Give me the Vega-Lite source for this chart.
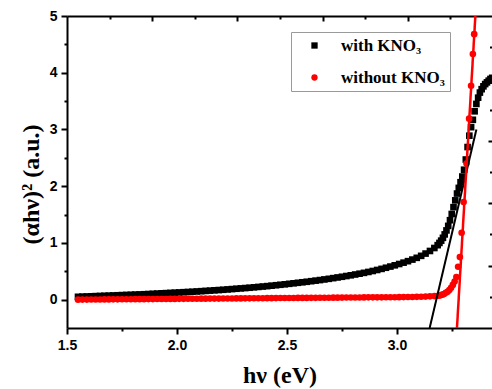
{
"$schema":"https://vega.github.io/schema/vega-lite/v6.json",
"autosize":{"type":"none"},
"padding":{"left":67,"top":16,"right":0,"bottom":61},
"width":425,"height":312,
"background":"white",
"config":{"view":{"stroke":null},"axis":{"grid":false,"domainColor":"black","tickColor":"black","domainWidth":2,"tickWidth":2,"labelFont":"Liberation Sans","labelFontWeight":"bold","labelFontSize":14,"labelColor":"black","titleColor":"black","labelFlush":false,"labelOverlap":false}},
"resolve":{"scale":{"x":"independent","y":"independent"},"axis":{"x":"independent","y":"independent"}},
"layer":[
{"data":{"values":[
{"s":"k","x":1.55,"y":0.050},{"s":"k","x":1.57,"y":0.053},{"s":"k","x":1.59,"y":0.056},{"s":"k","x":1.61,"y":0.059},{"s":"k","x":1.63,"y":0.062},{"s":"k","x":1.65,"y":0.065},{"s":"k","x":1.67,"y":0.068},{"s":"k","x":1.69,"y":0.071},{"s":"k","x":1.71,"y":0.074},{"s":"k","x":1.73,"y":0.077},{"s":"k","x":1.75,"y":0.080},{"s":"k","x":1.77,"y":0.083},{"s":"k","x":1.79,"y":0.086},{"s":"k","x":1.81,"y":0.089},{"s":"k","x":1.83,"y":0.092},{"s":"k","x":1.85,"y":0.095},{"s":"k","x":1.87,"y":0.099},{"s":"k","x":1.89,"y":0.103},{"s":"k","x":1.91,"y":0.107},{"s":"k","x":1.93,"y":0.111},{"s":"k","x":1.95,"y":0.115},{"s":"k","x":1.97,"y":0.119},{"s":"k","x":1.99,"y":0.123},{"s":"k","x":2.01,"y":0.127},{"s":"k","x":2.03,"y":0.131},{"s":"k","x":2.05,"y":0.135},{"s":"k","x":2.07,"y":0.139},{"s":"k","x":2.09,"y":0.144},{"s":"k","x":2.11,"y":0.149},{"s":"k","x":2.13,"y":0.154},{"s":"k","x":2.15,"y":0.159},{"s":"k","x":2.17,"y":0.164},{"s":"k","x":2.19,"y":0.169},{"s":"k","x":2.21,"y":0.174},{"s":"k","x":2.23,"y":0.180},{"s":"k","x":2.25,"y":0.186},{"s":"k","x":2.27,"y":0.192},{"s":"k","x":2.29,"y":0.198},{"s":"k","x":2.31,"y":0.204},{"s":"k","x":2.33,"y":0.210},{"s":"k","x":2.35,"y":0.217},{"s":"k","x":2.37,"y":0.224},{"s":"k","x":2.39,"y":0.231},{"s":"k","x":2.41,"y":0.238},{"s":"k","x":2.43,"y":0.246},{"s":"k","x":2.45,"y":0.254},{"s":"k","x":2.47,"y":0.262},{"s":"k","x":2.49,"y":0.270},{"s":"k","x":2.51,"y":0.279},{"s":"k","x":2.53,"y":0.288},{"s":"k","x":2.55,"y":0.297},{"s":"k","x":2.57,"y":0.306},{"s":"k","x":2.59,"y":0.315},{"s":"k","x":2.61,"y":0.325},{"s":"k","x":2.63,"y":0.335},{"s":"k","x":2.65,"y":0.345},{"s":"k","x":2.67,"y":0.356},{"s":"k","x":2.69,"y":0.367},{"s":"k","x":2.71,"y":0.379},{"s":"k","x":2.73,"y":0.391},{"s":"k","x":2.75,"y":0.403},{"s":"k","x":2.77,"y":0.416},{"s":"k","x":2.79,"y":0.429},{"s":"k","x":2.81,"y":0.443},{"s":"k","x":2.83,"y":0.457},{"s":"k","x":2.85,"y":0.472},{"s":"k","x":2.87,"y":0.488},{"s":"k","x":2.89,"y":0.505},{"s":"k","x":2.91,"y":0.523},{"s":"k","x":2.93,"y":0.542},{"s":"k","x":2.95,"y":0.562},{"s":"k","x":2.97,"y":0.583},{"s":"k","x":2.99,"y":0.605},{"s":"k","x":3.01,"y":0.628},{"s":"k","x":3.03,"y":0.652},{"s":"k","x":3.05,"y":0.678},{"s":"k","x":3.07,"y":0.706},{"s":"k","x":3.09,"y":0.737},{"s":"k","x":3.11,"y":0.772},{"s":"k","x":3.13,"y":0.812},{"s":"k","x":3.15,"y":0.858},{"s":"k","x":3.17,"y":0.910},{"s":"k","x":3.185,"y":0.960},
{"s":"k","x":3.193,"y":1.00},{"s":"k","x":3.201,"y":1.04},{"s":"k","x":3.209,"y":1.09},{"s":"k","x":3.217,"y":1.15},{"s":"k","x":3.225,"y":1.22},{"s":"k","x":3.233,"y":1.30},{"s":"k","x":3.241,"y":1.40},{"s":"k","x":3.249,"y":1.51},{"s":"k","x":3.257,"y":1.63},{"s":"k","x":3.265,"y":1.75},{"s":"k","x":3.273,"y":1.87},{"s":"k","x":3.281,"y":1.97},{"s":"k","x":3.289,"y":2.07},{"s":"k","x":3.297,"y":2.17},{"s":"k","x":3.305,"y":2.29},{"s":"k","x":3.313,"y":2.47},{"s":"k","x":3.321,"y":2.69},{"s":"k","x":3.329,"y":2.89},{"s":"k","x":3.337,"y":3.04},{"s":"k","x":3.345,"y":3.17},{"s":"k","x":3.353,"y":3.32},{"s":"k","x":3.361,"y":3.45},{"s":"k","x":3.369,"y":3.56},{"s":"k","x":3.377,"y":3.65},{"s":"k","x":3.385,"y":3.71},{"s":"k","x":3.393,"y":3.76},{"s":"k","x":3.401,"y":3.80},{"s":"k","x":3.409,"y":3.83},{"s":"k","x":3.417,"y":3.86},{"s":"k","x":3.425,"y":3.89},{"s":"k","x":3.433,"y":3.91},
{"s":"r","x":1.55,"y":0.000},{"s":"r","x":1.57,"y":0.001},{"s":"r","x":1.59,"y":0.001},{"s":"r","x":1.61,"y":0.002},{"s":"r","x":1.63,"y":0.002},{"s":"r","x":1.65,"y":0.003},{"s":"r","x":1.67,"y":0.004},{"s":"r","x":1.69,"y":0.004},{"s":"r","x":1.71,"y":0.005},{"s":"r","x":1.73,"y":0.005},{"s":"r","x":1.75,"y":0.006},{"s":"r","x":1.77,"y":0.007},{"s":"r","x":1.79,"y":0.007},{"s":"r","x":1.81,"y":0.008},{"s":"r","x":1.83,"y":0.008},{"s":"r","x":1.85,"y":0.009},{"s":"r","x":1.87,"y":0.010},{"s":"r","x":1.89,"y":0.010},{"s":"r","x":1.91,"y":0.011},{"s":"r","x":1.93,"y":0.011},{"s":"r","x":1.95,"y":0.012},{"s":"r","x":1.97,"y":0.013},{"s":"r","x":1.99,"y":0.013},{"s":"r","x":2.01,"y":0.014},{"s":"r","x":2.03,"y":0.014},{"s":"r","x":2.05,"y":0.015},{"s":"r","x":2.07,"y":0.016},{"s":"r","x":2.09,"y":0.016},{"s":"r","x":2.11,"y":0.017},{"s":"r","x":2.13,"y":0.017},{"s":"r","x":2.15,"y":0.018},{"s":"r","x":2.17,"y":0.019},{"s":"r","x":2.19,"y":0.019},{"s":"r","x":2.21,"y":0.020},{"s":"r","x":2.23,"y":0.020},{"s":"r","x":2.25,"y":0.021},{"s":"r","x":2.27,"y":0.022},{"s":"r","x":2.29,"y":0.022},{"s":"r","x":2.31,"y":0.023},{"s":"r","x":2.33,"y":0.023},{"s":"r","x":2.35,"y":0.024},{"s":"r","x":2.37,"y":0.025},{"s":"r","x":2.39,"y":0.025},{"s":"r","x":2.41,"y":0.026},{"s":"r","x":2.43,"y":0.026},{"s":"r","x":2.45,"y":0.027},{"s":"r","x":2.47,"y":0.028},{"s":"r","x":2.49,"y":0.028},{"s":"r","x":2.51,"y":0.029},{"s":"r","x":2.53,"y":0.029},{"s":"r","x":2.55,"y":0.030},{"s":"r","x":2.57,"y":0.031},{"s":"r","x":2.59,"y":0.031},{"s":"r","x":2.61,"y":0.032},{"s":"r","x":2.63,"y":0.032},{"s":"r","x":2.65,"y":0.033},{"s":"r","x":2.67,"y":0.034},{"s":"r","x":2.69,"y":0.034},{"s":"r","x":2.71,"y":0.035},{"s":"r","x":2.73,"y":0.035},{"s":"r","x":2.75,"y":0.036},{"s":"r","x":2.77,"y":0.037},{"s":"r","x":2.79,"y":0.037},{"s":"r","x":2.81,"y":0.038},{"s":"r","x":2.83,"y":0.038},{"s":"r","x":2.85,"y":0.039},{"s":"r","x":2.87,"y":0.040},{"s":"r","x":2.89,"y":0.040},{"s":"r","x":2.91,"y":0.041},{"s":"r","x":2.93,"y":0.041},{"s":"r","x":2.95,"y":0.042},{"s":"r","x":2.97,"y":0.043},{"s":"r","x":2.99,"y":0.043},{"s":"r","x":3.01,"y":0.044},{"s":"r","x":3.03,"y":0.045},{"s":"r","x":3.05,"y":0.046},{"s":"r","x":3.07,"y":0.047},{"s":"r","x":3.09,"y":0.049},{"s":"r","x":3.11,"y":0.051},{"s":"r","x":3.13,"y":0.054},{"s":"r","x":3.15,"y":0.058},{"s":"r","x":3.17,"y":0.063},
{"s":"r","x":3.190,"y":0.070},{"s":"r","x":3.198,"y":0.078},{"s":"r","x":3.206,"y":0.088},{"s":"r","x":3.214,"y":0.10},{"s":"r","x":3.222,"y":0.12},{"s":"r","x":3.230,"y":0.14},{"s":"r","x":3.238,"y":0.17},{"s":"r","x":3.246,"y":0.21},{"s":"r","x":3.254,"y":0.26},{"s":"r","x":3.262,"y":0.32},{"s":"r","x":3.270,"y":0.40},{"s":"r","x":3.278,"y":0.58},{"s":"r","x":3.286,"y":0.75},{"s":"r","x":3.294,"y":1.18},{"s":"r","x":3.303,"y":1.72},{"s":"r","x":3.316,"y":2.40},{"s":"r","x":3.328,"y":3.19},{"s":"r","x":3.337,"y":3.77},{"s":"r","x":3.345,"y":4.33},{"s":"r","x":3.351,"y":4.68}
]},
"mark":{"type":"point","filled":true,"opacity":1,"size":44,"strokeWidth":0,"clip":true},
"encoding":{
"x":{"field":"x","type":"quantitative","scale":{"domain":[1.5,3.432],"nice":false,"zero":false},
 "axis":{"orient":"bottom","values":[1.5,1.75,2,2.25,2.5,2.75,3,3.25],"labelExpr":"abs(datum.value*2 - round(datum.value*2)) < 0.001 ? format(datum.value, '.1f') : ''","tickSize":{"condition":{"test":"abs(datum.value*2 - round(datum.value*2)) < 0.001","value":6},"value":3},"labelPadding":4,
 "title":"hν (eV)","titleFont":"Liberation Serif","titleFontSize":24,"titleFontWeight":"bold","titleY":54,"titleBaseline":"alphabetic"}},
"y":{"field":"y","type":"quantitative","scale":{"domain":[-0.5,5],"nice":false,"zero":false},
 "axis":{"orient":"left","values":[0,0.5,1,1.5,2,2.5,3,3.5,4,4.5,5],"labelExpr":"datum.value % 1 == 0 ? format(datum.value, 'd') : ''","tickSize":{"condition":{"test":"datum.value % 1 == 0","value":6},"value":3},"labelPadding":4,
 "title":"(αhν)² (a.u.)","titleFont":"Liberation Serif","titleFontSize":24,"titleFontWeight":"bold","titleAngle":270,"titleBaseline":"alphabetic","titleAlign":"center","titleX":-29,"titleY":168}},
"color":{"field":"s","type":"nominal","scale":{"domain":["k","r"],"range":["#000000","#ff0000"]},
 "legend":{"orient":"none","legendX":224,"legendY":16,"title":null,"labelExpr":"datum.value == 'k' ? 'with KNO₃' : 'without KNO₃'","labelFont":"Liberation Serif","labelFontWeight":"bold","labelFontSize":17,"labelColor":"black","strokeColor":"#9a9a9a","fillColor":"white","padding":5,"symbolOffset":10,"labelOffset":18,"rowPadding":14,"symbolSize":40,"symbolStrokeWidth":0}},
"shape":{"field":"s","type":"nominal","scale":{"domain":["k","r"],"range":["square","circle"]},
 "legend":{"orient":"none","legendX":224,"legendY":16,"title":null,"labelExpr":"datum.value == 'k' ? 'with KNO₃' : 'without KNO₃'","labelFont":"Liberation Serif","labelFontWeight":"bold","labelFontSize":17,"labelColor":"black","strokeColor":"#9a9a9a","fillColor":"white","padding":5,"symbolOffset":10,"labelOffset":18,"rowPadding":14,"symbolSize":40,"symbolStrokeWidth":0}}
}},
{"data":{"values":[{"x":3.1486,"y":-0.5},{"x":3.361,"y":3.0}]},
"mark":{"type":"line","color":"black","strokeWidth":2,"clip":true},
"encoding":{"x":{"field":"x","type":"quantitative","scale":{"domain":[1.5,3.432],"nice":false,"zero":false},"axis":null},
"y":{"field":"y","type":"quantitative","scale":{"domain":[-0.5,5],"nice":false,"zero":false},"axis":null}}},
{"data":{"values":[{"x":3.2727,"y":-0.5},{"x":3.3564,"y":5.0}]},
"mark":{"type":"line","color":"#ff0000","strokeWidth":2.5,"clip":true},
"encoding":{"x":{"field":"x","type":"quantitative","scale":{"domain":[1.5,3.432],"nice":false,"zero":false},"axis":null},
"y":{"field":"y","type":"quantitative","scale":{"domain":[-0.5,5],"nice":false,"zero":false},"axis":null}}},
{"data":{"values":[{"u":0,"v":0}]},
"mark":{"type":"point","opacity":0},
"encoding":{"x":{"field":"u","type":"quantitative","scale":{"domain":[0,9.98],"nice":false,"zero":false},
 "axis":{"orient":"top","values":[1,2,3,4,5,6,7,8,9],"labels":false,"title":null,"domain":true,"tickSize":{"condition":{"test":"datum.value % 2 == 0","value":-5},"value":-3}}},
"y":{"field":"v","type":"quantitative","scale":{"domain":[0,10],"nice":false,"zero":false},
 "axis":{"orient":"right","values":[1,2,3,4,5,6,7,8,9],"labels":false,"title":null,"domain":false,"tickSize":{"condition":{"test":"datum.value % 2 == 0","value":-4},"value":-2.5}}}}}
]
}
